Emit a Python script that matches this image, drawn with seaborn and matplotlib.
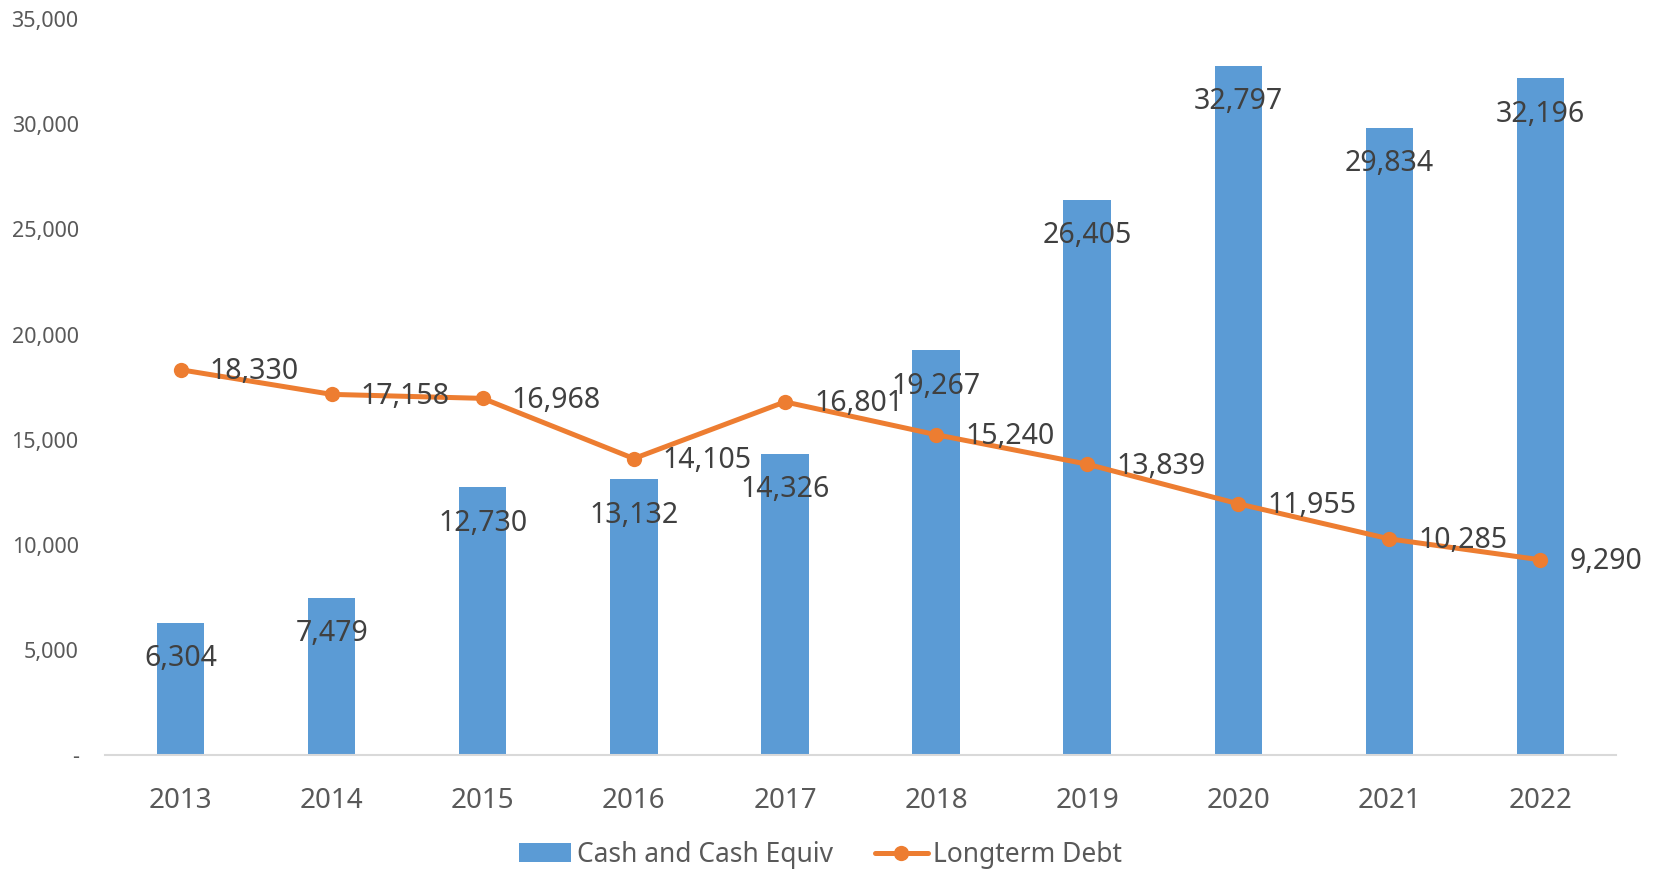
import numpy as np
import pandas as pd
import matplotlib
matplotlib.use("Agg")
import matplotlib.pyplot as plt
import seaborn as sns
from matplotlib.patches import Patch
from matplotlib.lines import Line2D

years = ["2013", "2014", "2015", "2016", "2017", "2018", "2019", "2020", "2021", "2022"]
cash = [6304, 7479, 12730, 13132, 14326, 19267, 26405, 32797, 29834, 32196]
debt = [18330, 17158, 16968, 14105, 16801, 15240, 13839, 11955, 10285, 9290]
yticks = [0, 5000, 10000, 15000, 20000, 25000, 30000, 35000]

BLUE = "#5B9BD5"
ORANGE = "#ED7D31"
TICK = "#595959"
LABEL = "#404040"

sns.set_theme(style="white")
plt.rcParams["font.family"] = ["Noto Sans", "DejaVu Sans"]

fig = plt.figure(figsize=(16.54, 8.74), dpi=100)
ax = fig.add_axes([0.0635, 0.136, 0.9135, 0.842])

df = pd.DataFrame({"year": years, "cash": cash, "debt": debt})
sns.barplot(data=df, x="year", y="cash", color=BLUE, width=0.314, saturation=1,
            ax=ax, edgecolor="none")
x_idx = np.arange(len(years))
sns.lineplot(x=x_idx, y=debt, color=ORANGE, linewidth=3.6, marker="o",
             markersize=11, markeredgewidth=0, ax=ax)

for i, v in enumerate(cash):
    ax.annotate(f"{v:,}", xy=(i, v), xytext=(0, -36), textcoords="offset pixels",
                ha="center", va="center", fontsize=20.5, color=LABEL)
for i, v in enumerate(debt):
    ax.annotate(f"{v:,}", xy=(i, v), xytext=(29, -2), textcoords="offset pixels",
                ha="left", va="center", fontsize=20.5, color=LABEL)

ax.set_xlim(-0.5, 9.5)
ax.set_ylim(0, 35000)
ax.set_yticks(yticks)
ax.set_yticklabels(["-" if t == 0 else f"{t:,}" for t in yticks])
ax.set_xticks(x_idx)
ax.set_xticklabels(years)
ax.set_xlabel("")
ax.set_ylabel("")
ax.tick_params(axis="y", length=0, pad=19, labelsize=15.5, labelcolor=TICK)
ax.tick_params(axis="x", length=0, pad=23, labelsize=20, labelcolor=TICK)
for s in ["top", "right", "left"]:
    ax.spines[s].set_visible(False)
ax.spines["bottom"].set_color("#D9D9D9")
ax.spines["bottom"].set_linewidth(1.5)
ax.grid(False)

handles = [Patch(facecolor=BLUE, edgecolor="none"),
           Line2D([0], [0], color=ORANGE, linewidth=3.6, marker="o", markersize=11,
                  markeredgewidth=0)]
leg = fig.legend(handles, ["Cash and Cash Equiv", "Longterm Debt"], loc="center",
                 bbox_to_anchor=(0.496, 0.022), ncol=2, frameon=False,
                 fontsize=19, handlelength=2.0, handletextpad=0.2, columnspacing=1.6,
                 borderpad=0.1)
for t in leg.get_texts():
    t.set_color(TICK)

fig.savefig("out.png", dpi=100)
